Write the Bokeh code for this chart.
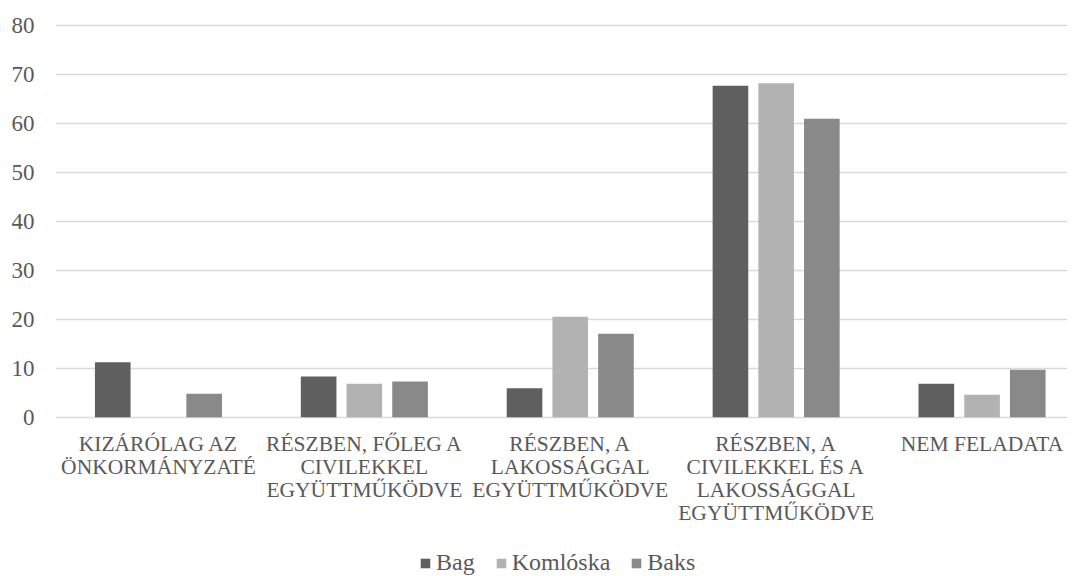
from bokeh.plotting import figure
from bokeh.models import (ColumnDataSource, Range1d, FixedTicker, Legend, LegendItem)
from bokeh.core.properties import value
from bokeh.transform import dodge
from bokeh.embed import file_html
from bokeh.resources import INLINE

categories = [
    "KIZÁRÓLAG AZ\nÖNKORMÁNYZATÉ",
    "RÉSZBEN, FŐLEG A\nCIVILEKKEL\nEGYÜTTMŰKÖDVE",
    "RÉSZBEN, A\nLAKOSSÁGGAL\nEGYÜTTMŰKÖDVE",
    "RÉSZBEN, A\nCIVILEKKEL ÉS A\nLAKOSSÁGGAL\nEGYÜTTMŰKÖDVE",
    "NEM FELADATA",
]
series_names = ["Bag", "Komlóska", "Baks"]
bag = [11.2, 8.3, 5.9, 67.6, 6.8]
komloska = [0.0, 6.8, 20.5, 68.1, 4.6]
baks = [4.8, 7.3, 17.0, 60.9, 9.7]
y_ticks = [0, 10, 20, 30, 40, 50, 60, 70, 80]

colors = ["#5f5f5f", "#b2b2b2", "#898989"]
FONT = "Liberation Serif"
TXT = "#595959"

xpos = [i + 0.5 for i in range(len(categories))]
src = ColumnDataSource(dict(x=xpos, bag=bag, komloska=komloska, baks=baks,
                            label=categories, base=[0] * len(categories)))

# frame runs down to the bottom of the page; category labels and legend are drawn inside it
p = figure(frame_width=1012, frame_height=554, output_backend="svg", toolbar_location=None,
           x_range=Range1d(0, 4.915), y_range=Range1d(-32.49, 80.51),
           min_border_left=55, min_border_right=0, min_border_top=22,
           min_border_bottom=0, outline_line_color=None, x_axis_location=None)

step = 0.222
bw = 0.173
renderers = []
for col, off, c in zip(["bag", "komloska", "baks"], [-step, 0, step], colors):
    r = p.vbar(x=dodge("x", off, range=p.x_range), top=col, bottom=0, width=bw,
               source=src, fill_color=c, line_color=None)
    renderers.append(r)

# category labels
p.text(x="x", y="base", text="label", source=src, y_offset=15,
       text_align="center", text_baseline="top",
       text_font=value(FONT), text_font_size="21.5px", text_color=TXT,
       text_line_height=0.95)

# y axis
p.yaxis.ticker = FixedTicker(ticks=y_ticks)
p.yaxis.axis_line_color = None
p.yaxis.major_tick_line_color = None
p.yaxis.minor_tick_line_color = None
p.yaxis.major_tick_out = 0
p.yaxis.major_tick_in = 0
p.yaxis.major_label_text_font = FONT
p.yaxis.major_label_text_color = TXT
p.yaxis.major_label_text_font_size = "23px"
p.yaxis.major_label_standoff = 21

p.xgrid.grid_line_color = None
p.ygrid.ticker = FixedTicker(ticks=y_ticks)
p.ygrid.grid_line_color = "#d9d9d9"
p.ygrid.grid_line_width = 1.5

legend = Legend(items=[LegendItem(label=n, renderers=[r]) for n, r in zip(series_names, renderers)],
                orientation="horizontal", location=(364, 0),
                label_text_font=FONT, label_text_font_size="24px", label_text_color=TXT,
                glyph_width=12, glyph_height=12, label_standoff=5, spacing=20,
                padding=0, margin=0, border_line_color=None, background_fill_alpha=0)
p.add_layout(legend, "center")

open("out.html", "w").write(file_html(p, INLINE))
